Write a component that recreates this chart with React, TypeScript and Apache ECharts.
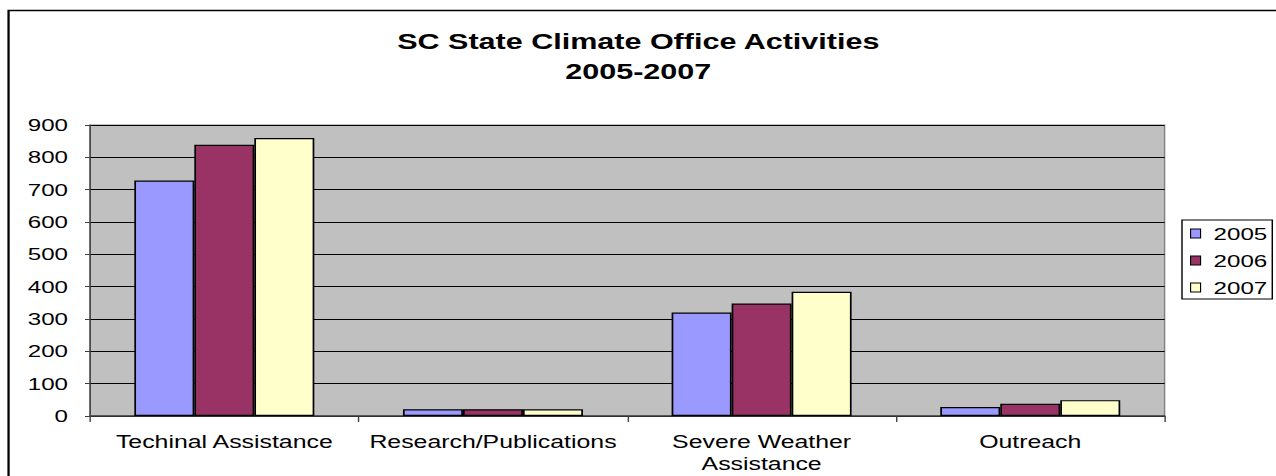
import React, { useEffect, useRef } from "react";
import * as echarts from "echarts";

const categories = ["Techinal Assistance", "Research/Publications", "Severe Weather Assistance", "Outreach"];
const seriesNames = ["2005", "2006", "2007"];
const values2005 = [728, 21, 320, 28];
const values2006 = [839, 21, 348, 38];
const values2007 = [860, 21, 384, 49];
const colors = ["#9999FF", "#993366", "#FFFFCC"];
const titleLines = ["SC State Climate Office Activities", "2005-2007"];

const FONT = "'Liberation Sans', Arial, sans-serif";
// the reference picture is stretched horizontally; render narrower and stretch
const S = 1.42;
const W = 1276;
const H = 476;
const px = (x: number) => x / S;

export default function App() {
  const ref = useRef<HTMLDivElement>(null);
  useEffect(() => {
    if (!ref.current) return;
    const chart = echarts.init(ref.current, undefined, { renderer: "svg" });
    const data = [values2005, values2006, values2007];
    chart.setOption({
      animation: false,
      backgroundColor: "#ffffff",
      textStyle: { fontFamily: FONT },
      title: {
        text: titleLines.join("\n"),
        left: "center",
        top: 22,
        textStyle: { fontFamily: FONT, fontSize: 21.5, fontWeight: "bold", color: "#000", lineHeight: 30 },
      },
      legend: {
        orient: "vertical",
        left: px(1182),
        top: 220,
        itemWidth: px(10),
        itemHeight: 9,
        itemGap: 10,
        padding: [5, px(5), 3, px(8)],
        borderColor: "#000",
        borderWidth: 1,
        icon: "rect",
        textStyle: { fontFamily: FONT, fontSize: 17, color: "#000", padding: [0, 0, 0, px(13) - 5] },
        itemStyle: { borderColor: "#000", borderWidth: 0.8 },
        data: seriesNames,
      },
      grid: {
        left: px(90),
        right: px(W - 1164),
        top: 125,
        bottom: H - 416,
        show: true,
        backgroundColor: "#C0C0C0",
        borderColor: "#808080",
        borderWidth: 1,
      },
      xAxis: {
        type: "category",
        data: categories,
        axisLine: { show: true, lineStyle: { color: "#404040", width: 1.5 } },
        axisTick: { show: true, length: 6, lineStyle: { color: "#404040" } },
        axisLabel: {
          interval: 0,
          fontFamily: FONT,
          fontSize: 17.5,
          color: "#000",
          margin: 15,
          lineHeight: 22,
          formatter: (v: string) => (v === "Severe Weather Assistance" ? "Severe Weather\nAssistance" : v),
        },
      },
      yAxis: {
        type: "value",
        min: 0,
        max: 900,
        interval: 100,
        axisLine: { show: true, lineStyle: { color: "#404040" } },
        axisTick: { show: true, length: 3.5, lineStyle: { color: "#404040" } },
        axisLabel: { fontFamily: FONT, fontSize: 17, color: "#000", margin: 15.5 },
        splitLine: { show: true, lineStyle: { color: "#000", width: 1 } },
      },
      graphic: [
        {
          type: "rect",
          left: px(5),
          top: 8,
          shape: { x: 0, y: 0, width: 1000, height: 500 },
          style: { fill: "none", stroke: "#000", lineWidth: 1.6 },
          silent: true,
          z: 100,
        },
      ],
      series: seriesNames.map((name, i) => ({
        name,
        type: "bar",
        data: data[i],
        barGap: "0%",
        barCategoryGap: "33%",
        itemStyle: { color: colors[i], borderColor: "#000", borderWidth: 1.2 },
      })),
    });
    return () => chart.dispose();
  }, []);
  return (
    <div
      ref={ref}
      style={{
        position: "fixed",
        left: 0,
        top: 0,
        width: W / S,
        height: H,
        transform: `scaleX(${S})`,
        transformOrigin: "0 0",
      }}
    />
  );
}
